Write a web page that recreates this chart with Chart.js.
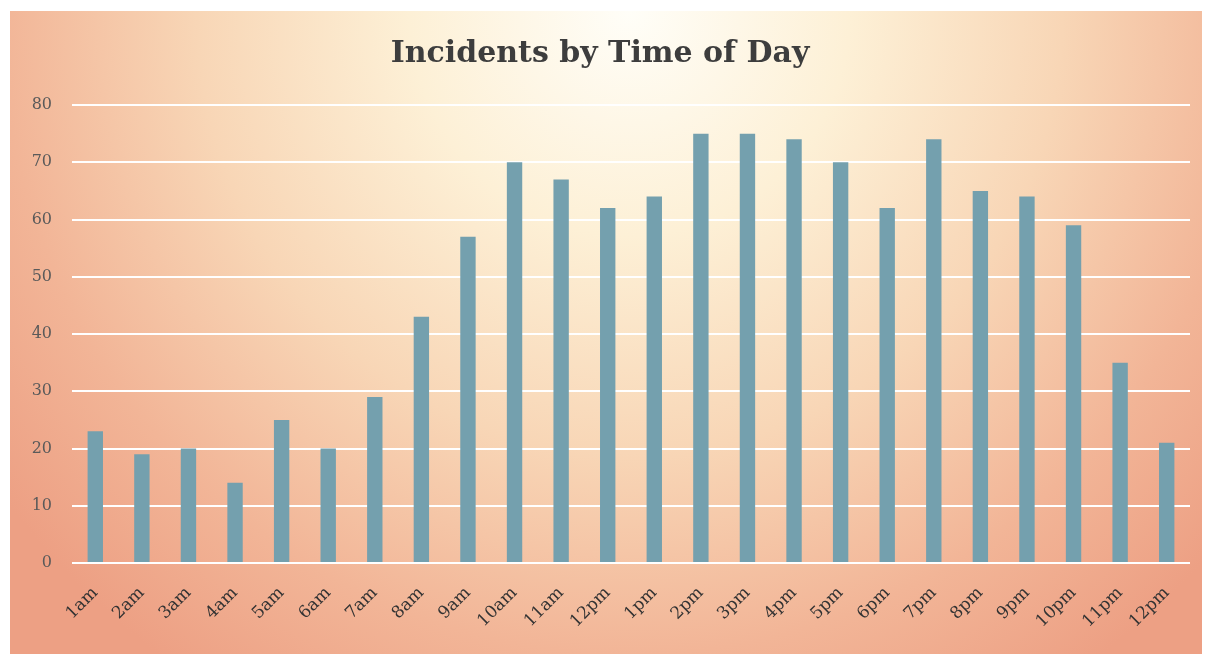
<!DOCTYPE html>
<html>
<head>
<meta charset="utf-8">
<script src="https://cdn.jsdelivr.net/npm/chart.js@4/dist/chart.umd.min.js"></script>
<style>
  html, body { margin: 0; padding: 0; background: #ffffff; }
  #wrap {
    position: absolute;
    left: 10px;
    top: 11px;
    width: 1192px;
    height: 643px;
    background: radial-gradient(ellipse 66% 125% at 52% 0%, #fffef8 0%, #fdf0d6 28%, #f8d6b6 55%, #f2b597 80%, #eda084 100%);
  }
</style>
</head>
<body>
<div id="wrap"><canvas id="incidentChart" width="1192" height="643"></canvas></div>
<script>
const hours = ["1am", "2am", "3am", "4am", "5am", "6am", "7am", "8am", "9am", "10am", "11am", "12pm",
  "1pm", "2pm", "3pm", "4pm", "5pm", "6pm", "7pm", "8pm", "9pm", "10pm", "11pm", "12pm"];
const incidents = [23, 19, 20, 14, 25, 20, 29, 43, 57, 70, 67, 62, 64, 75, 75, 74, 70, 62, 74, 65, 64, 59, 35, 21];
const yTicks = [0, 10, 20, 30, 40, 50, 60, 70, 80];

const ctx = document.getElementById("incidentChart");

new Chart(ctx, {
  type: "bar",
  data: {
    labels: hours,
    datasets: [{
      label: "Incidents",
      data: incidents,
      backgroundColor: "#74a0ae",
      barPercentage: 0.33,
      categoryPercentage: 1
    }]
  },
  options: {
    responsive: false,
    animation: false,
    layout: {
      padding: { left: 0, right: 12, top: 0, bottom: 0 }
    },
    plugins: {
      legend: { display: false },
      tooltip: { enabled: false },
      title: {
        display: true,
        text: "Incidents by Time of Day",
        color: "#3d3d3d",
        font: { family: "DejaVu Serif", size: 30, weight: "bold" },
        padding: { top: 25, bottom: 33 }
      }
    },
    scales: {
      x: {
        grid: { display: false },
        border: { display: false },
        ticks: {
          color: "#333333",
          font: { family: "DejaVu Serif", size: 17 },
          minRotation: 45,
          maxRotation: 45,
          padding: 12
        },
        afterFit: scale => { scale.height = 91; }
      },
      y: {
        min: 0,
        max: 80,
        afterBuildTicks: scale => { scale.ticks = yTicks.map(v => ({ value: v })); },
        grid: { color: "#ffffff", lineWidth: 2, drawTicks: false },
        border: { display: false },
        ticks: {
          color: "#5a5a5a",
          font: { family: "DejaVu Serif", size: 16 },
          padding: 20
        },
        afterFit: scale => { scale.width = 62; }
      }
    }
  }
});
</script>
</body>
</html>
